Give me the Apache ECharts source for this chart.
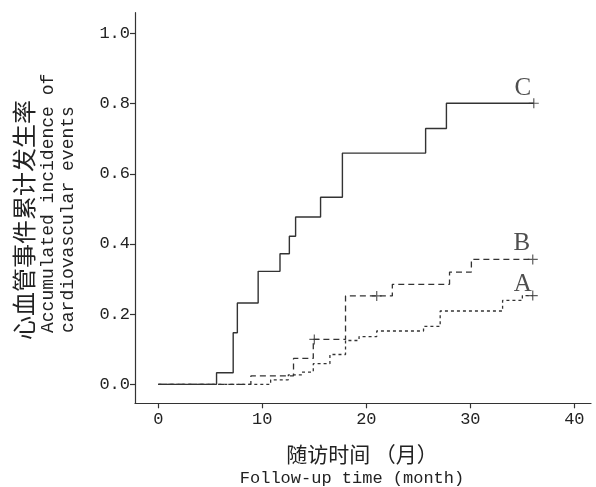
<!DOCTYPE html>
<html>
<head>
<meta charset="utf-8">
<script src="https://cdn.jsdelivr.net/npm/echarts@6/dist/echarts.min.js"></script>
<style>
html,body{margin:0;padding:0;background:#fff;}
#chart{width:596px;height:487px;}
</style>
</head>
<body>
<div id="chart"></div>
<script>
// ---- data ----
const monthsA = [0, 10.8, 12.5, 13.8, 14.9, 16.5, 18.0, 19.3, 21.0, 25.5, 27.1, 33.1, 35.0, 36.0];
const incidenceA = [0, 0.013, 0.027, 0.035, 0.059, 0.085, 0.125, 0.136, 0.152, 0.165, 0.209, 0.239, 0.253, 0.253];
const monthsB = [0, 8.9, 13.0, 14.9, 18.0, 22.5, 28.0, 30.1, 36.0];
const incidenceB = [0, 0.024, 0.074, 0.128, 0.252, 0.285, 0.320, 0.356, 0.356];
const monthsC = [0, 5.6, 7.2, 7.6, 9.6, 11.7, 12.6, 13.2, 15.6, 17.7, 25.7, 27.7, 36.1];
const incidenceC = [0, 0.033, 0.147, 0.232, 0.322, 0.372, 0.422, 0.477, 0.533, 0.659, 0.729, 0.801, 0.801];
const censorA = [36.0];
const censorB = [15.0, 21.0, 36.0];
const censorC = [36.1];
const groupNames = ['A', 'B', 'C'];
const xTicks = [0, 10, 20, 30, 40];
const yTicks = [0, 0.2, 0.4, 0.6, 0.8, 1.0];
const yTitleCN = '心血管事件累计发生率';
const yTitleEN1 = 'Accumulated incidence of';
const yTitleEN2 = 'cardiovascular events';
const xTitleCN = '随访时间 （月）';
const xTitleEN = 'Follow-up time (month)';

// ---- helpers ----
function pairs(ms, vs) { return ms.map((m, i) => [m, vs[i]]); }
function stepValue(ms, vs, t) {
  let v = vs[0];
  for (let i = 0; i < ms.length; i++) { if (ms[i] <= t) v = vs[i]; }
  return v;
}
const INK = '#333';
const MONO = '"Liberation Mono", "Noto Sans CJK SC", monospace';
const PLUS = 'path://M4.4,0H5.6V10H4.4ZM0,4.4H10V5.6H0Z';

function censorSeries(ms, vs, cens, label, offset) {
  return {
    type: 'scatter',
    symbol: PLUS,
    symbolSize: 10,
    itemStyle: { color: INK },
    z: 5,
    silent: true,
    data: cens.map((t, i) => ({
      value: [t, stepValue(ms, vs, t)],
      label: i === cens.length - 1 ? {
        show: true, formatter: label, position: 'inside', offset: offset,
        fontFamily: '"Liberation Serif", serif', fontSize: 25, color: '#222'
      } : { show: false }
    }))
  };
}

const chart = echarts.init(document.getElementById('chart'), null, { renderer: 'canvas' });
const option = {
  animation: false,
  backgroundColor: '#fff',
  grid: { left: 135, right: 5, top: 12.7, bottom: 83.7, containLabel: false },
  xAxis: {
    type: 'value', min: -2.24, max: 41.6,
    splitLine: { show: false },
    axisLine: { show: true, onZero: false, lineStyle: { color: INK, width: 1.2 } },
    axisTick: { show: true, inside: false, length: 5, customValues: xTicks, lineStyle: { color: INK, width: 1.2 } },
    axisLabel: { customValues: xTicks, margin: 8, fontSize: 17, fontFamily: MONO, color: '#222' }
  },
  yAxis: {
    type: 'value', min: -0.054, max: 1.059,
    splitLine: { show: false },
    axisLine: { show: true, onZero: false, lineStyle: { color: INK, width: 1.2 } },
    axisTick: { show: true, inside: false, length: 5, customValues: yTicks, lineStyle: { color: INK, width: 1.2 } },
    axisLabel: { customValues: yTicks, margin: 5, fontSize: 17, fontFamily: MONO, color: '#222',
      formatter: v => v.toFixed(1) }
  },
  series: [
    { type: 'line', step: 'end', showSymbol: false, silent: true,
      lineStyle: { color: INK, width: 1.3, type: [3, 3] }, data: pairs(monthsA, incidenceA) },
    { type: 'line', step: 'end', showSymbol: false, silent: true,
      lineStyle: { color: INK, width: 1.3, type: [6, 4] }, data: pairs(monthsB, incidenceB) },
    { type: 'line', step: 'end', showSymbol: false, silent: true,
      lineStyle: { color: INK, width: 1.4, type: 'solid' }, data: pairs(monthsC, incidenceC) },
    censorSeries(monthsA, incidenceA, censorA, groupNames[0], [-10, -11]),
    censorSeries(monthsB, incidenceB, censorB, groupNames[1], [-11, -16]),
    censorSeries(monthsC, incidenceC, censorC, groupNames[2], [-11, -15])
  ],
  graphic: [
    { type: 'text', x: 24, y: 220, rotation: Math.PI / 2,
      style: { text: yTitleCN, fontSize: 24, fontFamily: '"Noto Sans CJK SC"', fill: '#222',
        align: 'center', verticalAlign: 'middle' } },
    { type: 'text', x: 48, y: 333, rotation: Math.PI / 2,
      style: { text: yTitleEN1, fontSize: 18, fontFamily: MONO, fill: '#222',
        align: 'left', verticalAlign: 'middle' } },
    { type: 'text', x: 68, y: 333, rotation: Math.PI / 2,
      style: { text: yTitleEN2, fontSize: 18, fontFamily: MONO, fill: '#222',
        align: 'left', verticalAlign: 'middle' } },
    { type: 'text', x: 362, y: 454,
      style: { text: xTitleCN, fontSize: 21, fontFamily: '"Noto Sans CJK SC"', fill: '#222',
        align: 'center', verticalAlign: 'middle' } },
    { type: 'text', x: 352, y: 478,
      style: { text: xTitleEN, fontSize: 17, fontFamily: MONO, fill: '#222',
        align: 'center', verticalAlign: 'middle' } }
  ]
};
chart.setOption(option);
</script>
</body>
</html>
